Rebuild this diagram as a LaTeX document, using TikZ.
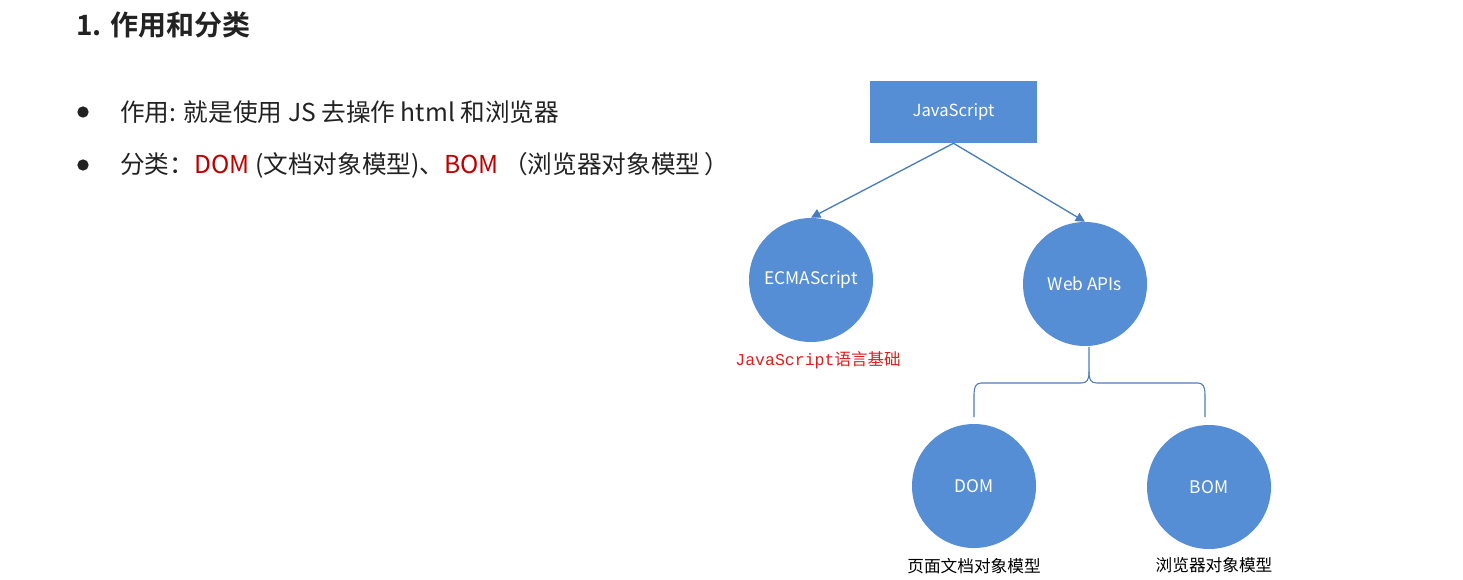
\documentclass[tikz,border=0pt]{standalone}
\usepackage{fontspec}
\setmainfont{Noto Sans CJK SC}
\newfontfamily\cjk{Noto Sans CJK SC}
\newfontfamily\cjkbold{Noto Sans CJK SC Bold}
\newfontfamily\monofont{Liberation Mono}
\usetikzlibrary{arrows.meta}
\definecolor{nodeblue}{RGB}{85,142,213}
\definecolor{lineblue}{RGB}{74,126,187}
\definecolor{txtred}{RGB}{192,0,0}
\definecolor{labred}{RGB}{220,30,30}
\definecolor{txtdark}{RGB}{34,34,34}
\tikzset{
  circnode/.style={circle,fill=nodeblue,minimum size=93pt,inner sep=0pt,text=white,font=\cjk\fontsize{13}{15}\selectfont},
  rectnode/.style={rectangle,fill=nodeblue,minimum width=125.25pt,minimum height=46.5pt,inner sep=0pt,text=white,font=\cjk\fontsize{12.5}{15}\selectfont},
  arr/.style={draw=lineblue,line width=1pt,-{Triangle[length=7pt,width=7pt]}},
  bracel/.style={draw=lineblue,line width=0.8pt},
  bullettext/.style={anchor=west,inner sep=0pt,text=txtdark,font=\cjk\fontsize{18.5}{22}\selectfont},
  bulletdot/.style={circle,fill=txtdark,minimum size=8.5pt,inner sep=0pt},
  sublabel/.style={inner sep=0pt,text=black,font=\cjk\fontsize{12.5}{15}\selectfont},
}
\begin{document}
\begin{tikzpicture}[x=0.75pt,y=-0.75pt]
\useasboundingbox (0,0) rectangle (1463,579);
% title
\node[anchor=west,inner sep=0pt,text=txtdark,font=\cjkbold\fontsize{21}{25}\selectfont] (title) at (76,25) {1. 作用和分类};
% bullets
\node[bulletdot] (b1) at (83,112) {};
\node[bullettext] (t1) at (120,112) {作用: 就是使用 JS 去操作 html 和浏览器};
\node[bulletdot] (b2) at (83,165) {};
\node[bullettext] (t2) at (120,165) {分类：\textcolor{txtred}{DOM} (文档对象模型)、\textcolor{txtred}{BOM}\,（浏览器对象模型\,）};
% diagram
\node[rectnode] (js) at (953.5,112) {JavaScript};
\node[circnode] (ecma) at (811,280) {ECMAScript};
\node[circnode] (web) at (1085,284) {Web APIs};
\node[circnode] (dom) at (974,486) {DOM};
\node[circnode] (bom) at (1209,487) {BOM};
\draw[arr] (js.south) -- (ecma.north);
\draw[arr] (js.south) -- (web.north);
\node[inner sep=0pt,text=labred,font=\fontsize{12.4}{15}\selectfont] (ecmalab) at (818,360) {{\monofont JavaScript}{\cjk 语言基础}};
\node[sublabel] (domlab) at (974,566) {页面文档对象模型};
\node[sublabel] (bomlab) at (1214,565) {浏览器对象模型};
% brace
\coordinate (stem) at (1089,372);
\coordinate (bl) at (974,417);
\coordinate (br) at (1205,417);
\draw[bracel] (1089,347) -- (stem) .. controls (1089,380) and (1087,383) .. (1081,383) -- (981,383) .. controls (976,383) and (974,387) .. (974,394) -- (bl);
\draw[bracel] (stem) .. controls (1089,380) and (1091,383) .. (1097,383) -- (1198,383) .. controls (1203,383) and (1205,387) .. (1205,394) -- (br);
\end{tikzpicture}
\end{document}
